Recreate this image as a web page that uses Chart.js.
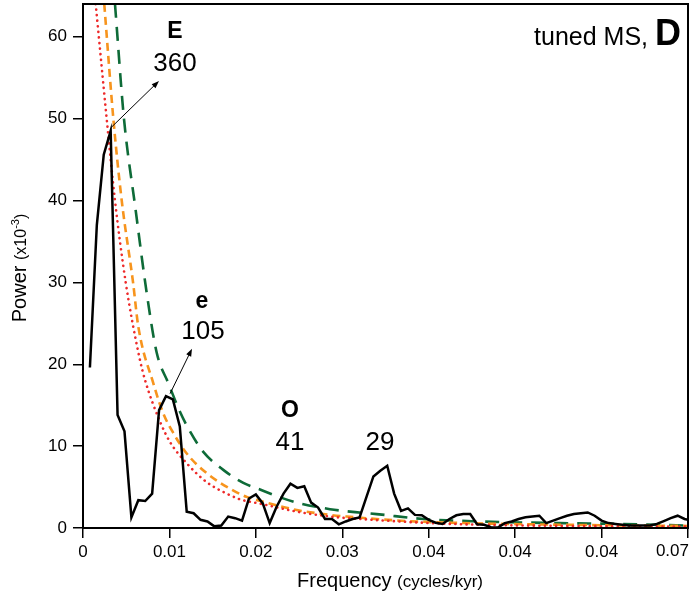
<!DOCTYPE html>
<html>
<head>
<meta charset="utf-8">
<script src="https://cdn.jsdelivr.net/npm/chart.js@4/dist/chart.umd.min.js"></script>
<style>
  html, body { margin: 0; padding: 0; background: #fff; }
  #wrap { width: 692px; height: 595px; }
</style>
</head>
<body>
<div id="wrap"><canvas id="chart" width="692" height="595"></canvas></div>
<script>
// spectrum (black line)
const freq = [0.0008, 0.0016, 0.0024, 0.0032, 0.0040, 0.0048, 0.0056, 0.0064, 0.0072, 0.0080,
  0.0088, 0.0096, 0.0104, 0.0112, 0.0120, 0.0128, 0.0136, 0.0144, 0.0152, 0.0160,
  0.0168, 0.0176, 0.0184, 0.0192, 0.0200, 0.0208, 0.0216, 0.0224, 0.0232, 0.0240,
  0.0248, 0.0256, 0.0264, 0.0272, 0.0280, 0.0288, 0.0296, 0.0304, 0.0312, 0.0320,
  0.0328, 0.0336, 0.0344, 0.0352, 0.0360, 0.0368, 0.0376, 0.0384, 0.0392, 0.0400,
  0.0408, 0.0416, 0.0424, 0.0432, 0.0440, 0.0448, 0.0456, 0.0464, 0.0472, 0.0480,
  0.0488, 0.0496, 0.0504, 0.0512, 0.0520, 0.0528, 0.0536, 0.0544, 0.0552, 0.0560,
  0.0568, 0.0576, 0.0584, 0.0592, 0.0600, 0.0608, 0.0616, 0.0624, 0.0632, 0.0640,
  0.0648, 0.0656, 0.0664, 0.0672, 0.0680, 0.0688, 0.0696, 0.0704];
const power = [19.6, 37.0, 45.6, 48.5, 13.8, 11.8, 1.3, 3.4, 3.3, 4.2,
  14.4, 16.1, 15.7, 12.4, 2.0, 1.8, 1.0, 0.8, 0.2, 0.3,
  1.4, 1.2, 0.9, 3.6, 4.1, 3.0, 0.6, 2.6, 4.2, 5.4,
  4.9, 5.1, 3.1, 2.5, 1.1, 1.1, 0.45, 0.8, 1.1, 1.3,
  3.8, 6.3, 7.0, 7.6, 4.2, 2.1, 2.4, 1.6, 1.55, 1.0,
  0.65, 0.5, 1.1, 1.55, 1.7, 1.7, 0.45, 0.4, 0.1, 0.05,
  0.6, 0.8, 1.1, 1.3, 1.4, 1.5, 0.6, 0.9, 1.2, 1.5,
  1.7, 1.8, 1.9, 1.5, 0.9, 0.6, 0.5, 0.4, 0.3, 0.3,
  0.3, 0.3, 0.5, 0.85, 1.2, 1.5, 1.1, 0.9];

// confidence curves
const redFreq = [0.00147, 0.00274, 0.0037, 0.00494, 0.00651, 0.00717, 0.00891, 0.01007, 0.0120, 0.01431,
  0.01663, 0.01817, 0.02083, 0.02473, 0.02858, 0.03355, 0.0413, 0.0482, 0.0598, 0.07];
const redPower = [64, 50, 40, 30, 20.9, 18.1, 13.0, 10.5, 7.9, 5.6,
  4.2, 3.5, 2.9, 2.0, 1.4, 1.0, 0.55, 0.35, 0.22, 0.18];

const orangeFreq = [0.00246, 0.00351, 0.00448, 0.00579, 0.0064, 0.00813, 0.00929, 0.01045, 0.0120, 0.01431,
  0.01701, 0.01894, 0.02086, 0.02473, 0.02858, 0.03051, 0.03745, 0.04246, 0.05519, 0.07];
const orangePower = [64, 50, 40, 30, 24.6, 17.7, 14.0, 11.6, 9.1, 6.7,
  4.8, 3.8, 3.2, 2.2, 1.6, 1.4, 0.85, 0.65, 0.4, 0.25];

const greenFreq = [0.0037, 0.00474, 0.00607, 0.0074, 0.00853, 0.00987, 0.01122, 0.01238, 0.01392, 0.01623,
  0.01855, 0.02048, 0.02241, 0.02473, 0.02858, 0.03089, 0.03398, 0.03937, 0.04593, 0.05519, 0.06213, 0.07];
const greenPower = [64, 50, 39, 28.5, 21.4, 17.7, 14.2, 11.8, 9.3, 7.1,
  5.5, 4.7, 3.9, 3.1, 2.3, 2.0, 1.7, 1.1, 0.8, 0.6, 0.5, 0.3];

const xTickLabels = ['0', '0.01', '0.02', '0.03', '0.04', '0.04', '0.04', '0.07'];
const yTicks = [0, 10, 20, 30, 40, 50, 60];

const FONT = "'Liberation Sans', Arial, Helvetica, sans-serif";

function pts(xs, ys) {
  return xs.map((x, i) => ({ x: x, y: ys[i] }));
}

// peak labels: [freq, power, text, bold]
const peakLabels = [
  [0.01064, 60.6, 'E', true],
  [0.01064, 56.7, '360', false],
  [0.01377, 27.7, 'e', true],
  [0.01388, 24.0, '105', false],
  [0.02395, 14.3, 'O', true],
  [0.02395, 10.4, '41', false],
  [0.03436, 10.4, '29', false]
];
// arrows: from [f, p] to [f, p]
const arrows = [
  [[0.00324, 48.9], [0.00879, 54.6]],
  [[0.01007, 16.4], [0.01261, 21.9]]
];

const decorations = {
  id: 'decorations',
  afterDatasetsDraw(chart) {
    const ctx = chart.ctx;
    const xs = chart.scales.x, ys = chart.scales.y;
    const a = chart.chartArea;
    ctx.save();

    // frame
    ctx.strokeStyle = '#000';
    ctx.lineWidth = 2;
    ctx.strokeRect(a.left, a.top, a.right - a.left, a.bottom - a.top);

    // arrows
    ctx.lineWidth = 1;
    ctx.fillStyle = '#000';
    arrows.forEach(([p0, p1]) => {
      const x0 = xs.getPixelForValue(p0[0]), y0 = ys.getPixelForValue(p0[1]);
      const x1 = xs.getPixelForValue(p1[0]), y1 = ys.getPixelForValue(p1[1]);
      const ang = Math.atan2(y1 - y0, x1 - x0);
      ctx.beginPath();
      ctx.moveTo(x0, y0);
      ctx.lineTo(x1 - 5 * Math.cos(ang), y1 - 5 * Math.sin(ang));
      ctx.stroke();
      ctx.beginPath();
      ctx.moveTo(x1, y1);
      ctx.lineTo(x1 - 8 * Math.cos(ang - 0.35), y1 - 8 * Math.sin(ang - 0.35));
      ctx.lineTo(x1 - 8 * Math.cos(ang + 0.35), y1 - 8 * Math.sin(ang + 0.35));
      ctx.closePath();
      ctx.fill();
    });

    // peak labels
    ctx.textAlign = 'center';
    ctx.textBaseline = 'middle';
    peakLabels.forEach(([f, p, t, b]) => {
      ctx.font = (b ? 'bold 23px ' : '26px ') + FONT;
      ctx.fillText(t, xs.getPixelForValue(f), ys.getPixelForValue(p));
    });

    // last x tick label sits inside the right edge
    ctx.font = '17px ' + FONT;
    ctx.textAlign = 'right';
    ctx.textBaseline = 'top';
    ctx.fillText(xTickLabels[xTickLabels.length - 1], a.right + 1, a.bottom + 15);

    // panel tag
    ctx.textBaseline = 'alphabetic';
    ctx.textAlign = 'right';
    ctx.font = 'bold 36px ' + FONT;
    const dW = ctx.measureText('D').width;
    ctx.fillText('D', a.right - 7, 45);
    ctx.font = '25px ' + FONT;
    ctx.fillText('tuned MS, ', a.right - 7 - dW, 45);

    // x title
    ctx.textAlign = 'left';
    ctx.font = '20px ' + FONT;
    const t1 = 'Frequency ';
    const w1 = ctx.measureText(t1).width;
    ctx.font = '17px ' + FONT;
    const t2 = '(cycles/kyr)';
    const w2 = ctx.measureText(t2).width;
    let sx = 390 - (w1 + w2) / 2;
    ctx.font = '20px ' + FONT;
    ctx.fillText(t1, sx, 587);
    ctx.font = '17px ' + FONT;
    ctx.fillText(t2, sx + w1, 587);

    // y title (rotated)
    ctx.translate(26, 268);
    ctx.rotate(-Math.PI / 2);
    const parts = [['Power ', 20, 0], ['(x10', 16, 0], ['-3', 11, -7], [')', 16, 0]];
    let total = 0;
    parts.forEach(([s, sz]) => { ctx.font = sz + 'px ' + FONT; total += ctx.measureText(s).width; });
    let px = -total / 2;
    parts.forEach(([s, sz, dy]) => {
      ctx.font = sz + 'px ' + FONT;
      ctx.fillText(s, px, 0 + dy);
      px += ctx.measureText(s).width;
    });
    ctx.restore();
  }
};

new Chart(document.getElementById('chart'), {
  type: 'line',
  data: {
    datasets: [
      {
        label: 'spectrum',
        data: pts(freq, power),
        borderColor: '#000',
        borderWidth: 2.5,
        pointRadius: 0,
        tension: 0,
        borderJoinStyle: 'miter'
      },
      {
        label: 'red',
        data: pts(redFreq, redPower),
        borderColor: '#ee2a2a',
        borderWidth: 2.6,
        borderDash: [0.1, 5.5],
        borderCapStyle: 'round',
        pointRadius: 0,
        cubicInterpolationMode: 'monotone'
      },
      {
        label: 'orange',
        data: pts(orangeFreq, orangePower),
        borderColor: '#f7941d',
        borderWidth: 2.6,
        borderDash: [8, 5],
        pointRadius: 0,
        cubicInterpolationMode: 'monotone'
      },
      {
        label: 'green',
        data: pts(greenFreq, greenPower),
        borderColor: '#0e6b38',
        borderWidth: 2.6,
        borderDash: [14, 9],
        pointRadius: 0,
        cubicInterpolationMode: 'monotone'
      }
    ]
  },
  options: {
    responsive: false,
    animation: false,
    layout: { padding: { top: 4, right: 4, left: 0, bottom: 0 } },
    plugins: { legend: { display: false }, tooltip: { enabled: false } },
    scales: {
      x: {
        type: 'linear',
        min: 0,
        max: 0.07,
        afterFit(s) { s.height = 67; s.paddingLeft = 0; s.paddingRight = 0; },
        afterBuildTicks(s) { s.ticks = xTickLabels.map((_, i) => ({ value: i * 0.01 })); },
        ticks: {
          color: '#000',
          font: { family: FONT, size: 17 },
          padding: 4,
          maxRotation: 0,
          autoSkip: false,
          callback: (v, i) => (i === xTickLabels.length - 1 ? '' : xTickLabels[i])
        },
        grid: { drawOnChartArea: false, drawTicks: true, tickLength: 10, color: '#000', lineWidth: 1.5 },
        border: { display: true, color: '#000', width: 2 }
      },
      y: {
        type: 'linear',
        min: 0,
        max: 64,
        afterFit(s) { s.width = 83; s.paddingTop = 0; s.paddingBottom = 0; },
        afterBuildTicks(s) { s.ticks = yTicks.map(v => ({ value: v })); },
        ticks: {
          color: '#000',
          font: { family: FONT, size: 17 },
          padding: 6
        },
        grid: { drawOnChartArea: false, drawTicks: true, tickLength: 10, color: '#000', lineWidth: 1.5 },
        border: { display: true, color: '#000', width: 2 }
      }
    }
  },
  plugins: [decorations]
});
</script>
</body>
</html>
